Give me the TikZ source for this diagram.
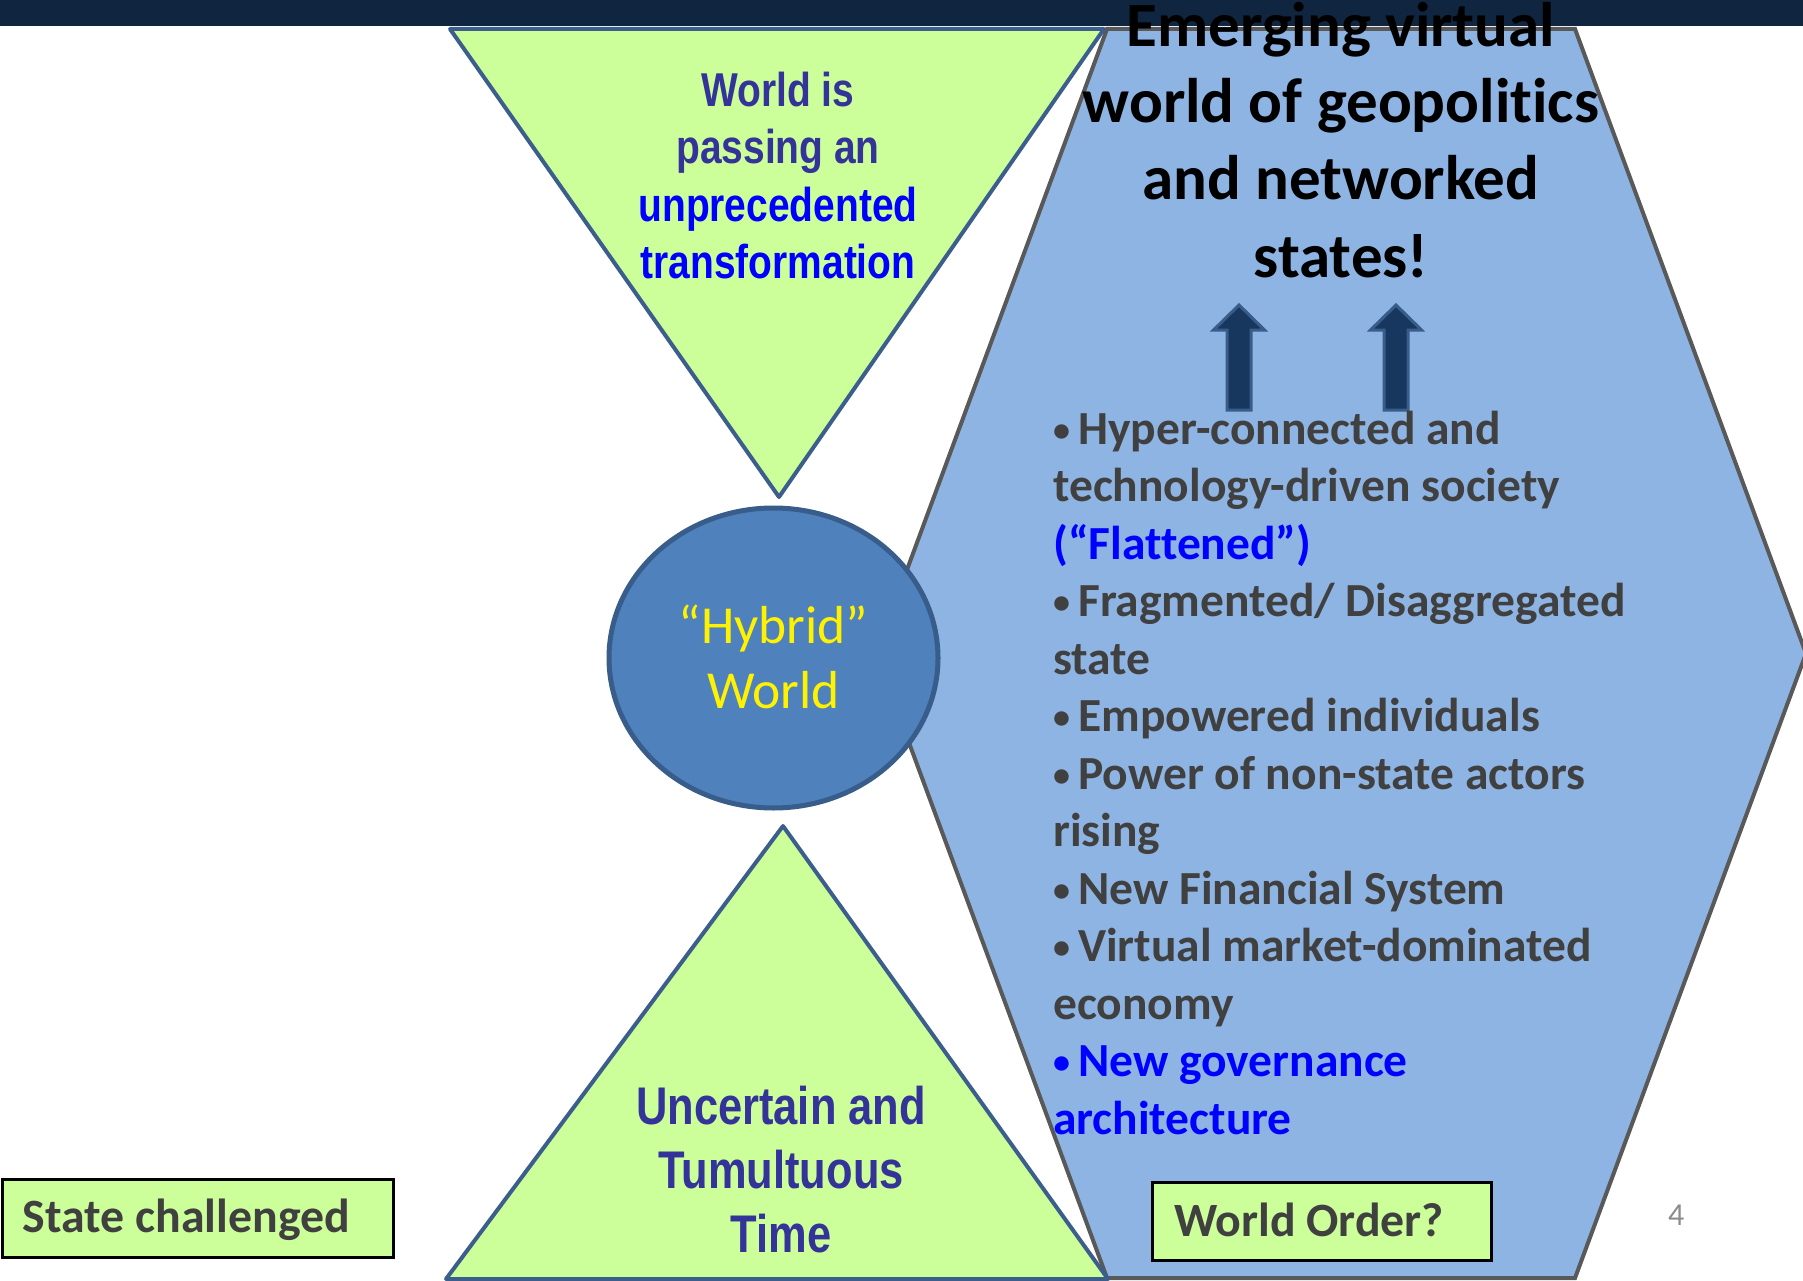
\documentclass[tikz,border=0pt]{standalone}
\usepackage{fontspec}
\setmainfont{Carlito}[Ligatures={NoCommon}]
\newfontfamily\narrowf[FakeStretch=0.82]{Liberation Sans}
\usetikzlibrary{shapes.geometric}
\definecolor{barnavy}{HTML}{10253F}
\definecolor{hexfill}{HTML}{8EB4E3}
\definecolor{hexline}{HTML}{595959}
\definecolor{trifill}{HTML}{CCFF99}
\definecolor{triline}{HTML}{3B5E8C}
\definecolor{circfill}{HTML}{4F81BD}
\definecolor{circline}{HTML}{385D8A}
\definecolor{txtgray}{HTML}{404040}
\definecolor{dkblue}{HTML}{333399}
\definecolor{brblue}{HTML}{0000FF}
\definecolor{arrfill}{HTML}{17375E}
\definecolor{pagegray}{HTML}{8C8C8C}
\newcommand{\bulletmark}{\makebox[25pt][l]{\raisebox{3pt}{\fontsize{34}{34}\selectfont •}}}
\tikzset{
  hexshape/.style={fill=hexfill, draw=hexline, line width=4pt, line join=miter},
  trishape/.style={fill=trifill, draw=triline, line width=4pt, line join=round},
  circshape/.style={ellipse, fill=circfill, draw=circline, line width=5pt, inner sep=0pt, minimum width=329pt, minimum height=300pt},
  blockarrow/.style={fill=arrfill, draw=circline, line width=3pt, line join=miter},
  labelbox/.style={fill=trifill, draw=black, line width=3pt},
  tritop/.style={anchor=base, inner sep=0pt, font=\narrowf\bfseries\fontsize{47.5}{57}\selectfont},
  tribot/.style={anchor=base, inner sep=0pt, text=dkblue, font=\narrowf\bfseries\fontsize{53}{64}\selectfont},
  titletxt/.style={anchor=base, inner sep=0pt, text=black, font=\bfseries\fontsize{63}{77}\selectfont},
  bul/.style={anchor=base west, inner sep=0pt, text=txtgray, font=\bfseries\fontsize{47.5}{57}\selectfont},
  hybtxt/.style={anchor=base, inner sep=0pt, text=yellow, font=\fontsize{53.5}{65}\selectfont},
  boxtxt/.style={anchor=base west, inner sep=0pt, text=txtgray, font=\bfseries\fontsize{47.8}{57}\selectfont}
}
\begin{document}
\begin{tikzpicture}[x=1pt,y=-1pt]
\useasboundingbox (0,0) rectangle (1803,1281);
% top bar
\fill[barnavy] (0,0) rectangle (1803,26);
% hexagon
\draw[hexshape] (1107,29) -- (1575,29) -- (1806,653.5) -- (1575,1278) -- (1107,1278) -- (876,653.5) -- cycle;
% triangles
\draw[trishape] (450,29) -- (1104,29) -- (779,497) -- cycle;
\draw[trishape] (783,826) -- (1108,1279) -- (446,1279) -- cycle;
% circle
\node[circshape] (hyb) at (773.5,658) {};
\node[hybtxt] (hyb1) at (773.5,643) {“Hybrid”};
\node[hybtxt] (hyb2) at (773.5,708) {World};
% block arrows
\draw[blockarrow] (1227,410) -- (1227,330) -- (1213.5,330) -- (1239,305) -- (1264.5,330) -- (1251,330) -- (1251,410) -- cycle;
\draw[blockarrow] (1384,410) -- (1384,330) -- (1370.5,330) -- (1396,305) -- (1421.5,330) -- (1408,330) -- (1408,410) -- cycle;
% top triangle text
\node[tritop, text=dkblue] (tt1) at (778,107) {World is};
\node[tritop, text=dkblue] (tt2) at (778,164) {passing an};
\node[tritop, text=brblue] (tt3) at (778,221.5) {unprecedented};
\node[tritop, text=brblue] (tt4) at (778,279) {transformation};
% bottom triangle text
\node[tribot] (bt1) at (781,1124) {Uncertain and};
\node[tribot] (bt2) at (781,1188) {Tumultuous};
\node[tribot] (bt3) at (781,1252) {Time};
% title
\node[titletxt] (h1) at (1341,47) {Emerging virtual};
\node[titletxt] (h2) at (1341,123) {world of geopolitics};
\node[titletxt] (h3) at (1341,200) {and networked};
\node[titletxt] (h4) at (1341,277) {states!};
% bullets
\node[bul] (b1) at (1053,444) {\bulletmark Hyper-connected and};
\node[bul] (b2) at (1053,501.5) {technology-driven society};
\node[bul, text=brblue] (b3) at (1053,559) {(“Flattened”)};
\node[bul] (b4) at (1053,616.5) {\bulletmark Fragmented/ Disaggregated};
\node[bul] (b5) at (1053,674) {state};
\node[bul] (b6) at (1053,731.5) {\bulletmark Empowered individuals};
\node[bul] (b7) at (1053,789) {\bulletmark Power of non-state actors};
\node[bul] (b8) at (1053,846.5) {rising};
\node[bul] (b9) at (1053,904) {\bulletmark New Financial System};
\node[bul] (b10) at (1053,961.5) {\bulletmark Virtual market-dominated};
\node[bul] (b11) at (1053,1019) {economy};
\node[bul, text=brblue] (b12) at (1053,1076.5) {\bulletmark New governance};
\node[bul, text=brblue] (b13) at (1053,1134) {architecture};
% label boxes
\draw[labelbox] (2.7,1179) rectangle (393,1257.3);
\node[boxtxt] (sc) at (22.7,1232.3) {State challenged};
\draw[labelbox] (1152.5,1182) rectangle (1491,1260.7);
\node[boxtxt] (wo) at (1174,1236.7) {World Order?};
% page number
\node[anchor=base west, inner sep=0pt, text=pagegray, font=\fontsize{32}{38}\selectfont] (pg) at (1668,1225) {4};
\end{tikzpicture}
\end{document}
